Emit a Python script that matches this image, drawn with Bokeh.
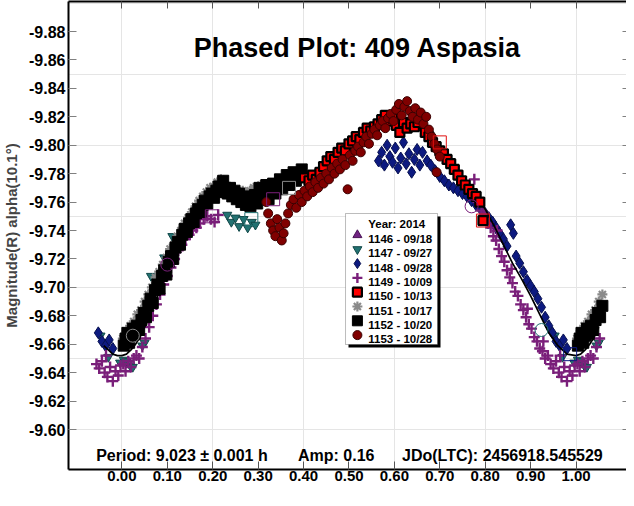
from bokeh.plotting import figure
from bokeh.models import (Range1d, LinearAxis, FixedTicker, NumeralTickFormatter,
                          CustomJSTickFormatter, Label, BoxAnnotation)
from bokeh.embed import file_html
from bokeh.resources import INLINE

FONT = "Liberation Sans"

# ---------------- data ----------------
x_ticks = [0.0, 0.1, 0.2, 0.3, 0.4, 0.5, 0.6, 0.7, 0.8, 0.9, 1.0]
y_ticks = [-9.88, -9.86, -9.84, -9.82, -9.80, -9.78, -9.76, -9.74, -9.72,
           -9.70, -9.68, -9.66, -9.64, -9.62, -9.60]

title_text = "Phased Plot: 409 Aspasia"
y_label = "Magnitude(R) alpha(10.1°)"
period_text = "Period: 9.023 ± 0.001 h"
amp_text = "Amp: 0.16"
jd_text = "JDo(LTC): 2456918.545529"
legend_title = "Year: 2014"
session_labels = ["1146 - 09/18", "1147 - 09/27", "1148 - 09/28", "1149 - 10/09",
                  "1150 - 10/13", "1151 - 10/17", "1152 - 10/20", "1153 - 10/28"]

# 1146 (purple triangles)
s1146_phase = [0.121, 0.152, 0.188, 0.216, 0.262, 0.305]
s1146_mag = [-9.726, -9.746, -9.761, -9.768, -9.763, -9.764]

# 1147 (teal inverted triangles)
s1147_phase = [0.953, 0.962, 0.970, 0.996, 0.004, 0.010, 0.018, 0.024, 0.039, 0.050,
               0.064, 0.093, 0.111, 0.166, 0.173, 0.232, 0.241, 0.250, 0.258, 0.268,
               0.277, 0.286, 0.294, 0.045]
s1147_mag = [-9.666, -9.661, -9.651, -9.647, -9.649, -9.648, -9.645, -9.644, -9.679, -9.661,
             -9.708, -9.721, -9.736, -9.752, -9.755, -9.751, -9.746, -9.749, -9.743, -9.748,
             -9.742, -9.746, -9.744, -9.659]

# 1148 (navy diamonds)
s1148_phase = [0.565, 0.572, 0.578, 0.584, 0.590, 0.596, 0.602, 0.608, 0.614, 0.620,
               0.626, 0.632, 0.638, 0.644, 0.650, 0.656, 0.662,
               0.672, 0.680, 0.690, 0.700, 0.710, 0.720, 0.730, 0.740, 0.750, 0.760,
               0.770, 0.780, 0.790, 0.800, 0.808, 0.816, 0.824, 0.832, 0.840, 0.848,
               0.856, 0.862, 0.868, 0.876, 0.884, 0.892, 0.900, 0.908, 0.916, 0.924,
               0.932, 0.940, 0.948, 0.956, 0.964, 0.972, 0.980]
s1148_mag = [-9.789, -9.795, -9.786, -9.800, -9.792, -9.788, -9.798, -9.784, -9.791, -9.802,
             -9.787, -9.794, -9.781, -9.790, -9.797, -9.786, -9.795,
             -9.789, -9.786, -9.782, -9.778, -9.775, -9.772, -9.770, -9.768, -9.766, -9.764,
             -9.761, -9.758, -9.755, -9.752, -9.749, -9.746, -9.742, -9.738, -9.734, -9.729,
             -9.744, -9.738, -9.722, -9.717, -9.711, -9.705, -9.701, -9.697, -9.692, -9.686,
             -9.679, -9.673, -9.668, -9.662, -9.659, -9.663, -9.657]

# 1149 (purple crosses)
s1149_phase = [0.003, 0.008, 0.014, 0.020, 0.026, 0.032, 0.038, 0.045, 0.052, 0.060,
               0.068, 0.076, 0.084, 0.092, 0.100, 0.108, 0.116, 0.124, 0.132, 0.140,
               0.148, 0.156, 0.164, 0.172, 0.180, 0.188, 0.196, 0.204, 0.212,
               0.776,
               0.784, 0.792, 0.798, 0.806, 0.812, 0.818, 0.824, 0.830, 0.836, 0.842,
               0.848, 0.854, 0.860, 0.866, 0.872, 0.878, 0.884, 0.890, 0.896, 0.902,
               0.908, 0.914, 0.920, 0.926, 0.932, 0.938, 0.944, 0.950, 0.956, 0.962,
               0.968, 0.974, 0.980, 0.986, 0.992, 0.997,
               0.826, 0.858, 0.893, 0.928, 0.965]
s1149_mag = [-9.646, -9.641, -9.648, -9.644, -9.650, -9.652, -9.650, -9.658, -9.664, -9.672,
             -9.680, -9.688, -9.695, -9.702, -9.708, -9.714, -9.720, -9.726, -9.730, -9.734,
             -9.737, -9.740, -9.742, -9.745, -9.748, -9.750, -9.748, -9.746, -9.751,
             -9.776,
             -9.760, -9.754, -9.752, -9.745, -9.742, -9.736, -9.733, -9.727, -9.722, -9.718,
             -9.712, -9.707, -9.703, -9.697, -9.694, -9.688, -9.684, -9.679, -9.674, -9.671,
             -9.665, -9.662, -9.657, -9.655, -9.650, -9.652, -9.646, -9.643, -9.648, -9.640,
             -9.637, -9.644, -9.634, -9.641, -9.638, -9.645,
             -9.740, -9.713, -9.685, -9.662, -9.652]

# 1150 (red squares)
s1150_phase = [0.402, 0.412, 0.420, 0.428, 0.436, 0.444, 0.452, 0.460, 0.468, 0.476,
               0.484, 0.492, 0.500, 0.508, 0.516, 0.524, 0.532, 0.540, 0.548, 0.556,
               0.564, 0.572, 0.580, 0.588, 0.596, 0.604, 0.612, 0.620, 0.628, 0.636,
               0.644, 0.652, 0.660, 0.668, 0.676, 0.684, 0.692, 0.700, 0.708, 0.716,
               0.724, 0.732, 0.740, 0.748, 0.756, 0.764, 0.772, 0.780, 0.788, 0.795]
s1150_mag = [-9.777, -9.775, -9.779, -9.776, -9.781, -9.785, -9.789, -9.792, -9.790, -9.795,
             -9.798, -9.796, -9.801, -9.803, -9.806, -9.804, -9.809, -9.812, -9.810, -9.813,
             -9.815, -9.818, -9.821, -9.817, -9.819, -9.814, -9.809, -9.816, -9.812, -9.815,
             -9.813, -9.816, -9.819, -9.809, -9.806, -9.802, -9.799, -9.796, -9.794, -9.790,
             -9.787, -9.783, -9.779, -9.775, -9.772, -9.769, -9.766, -9.764, -9.760, -9.747]

# 1151 (gray asterisks)
s1151_phase = [0.002, 0.010, 0.018, 0.026, 0.034, 0.042, 0.050, 0.058, 0.066, 0.074,
               0.082, 0.090, 0.098, 0.106, 0.114, 0.122, 0.130, 0.138, 0.146, 0.154,
               0.162, 0.170, 0.178, 0.186, 0.194, 0.202, 0.210, 0.218, 0.226, 0.234,
               0.242, 0.250, 0.258, 0.266, 0.274, 0.282, 0.290, 0.298, 0.306, 0.314]
s1151_mag = [-9.664, -9.669, -9.673, -9.676, -9.681, -9.684, -9.690, -9.695, -9.700, -9.707,
             -9.711, -9.716, -9.721, -9.727, -9.730, -9.736, -9.740, -9.745, -9.749, -9.753,
             -9.757, -9.761, -9.764, -9.767, -9.770, -9.771, -9.774, -9.776, -9.773, -9.771,
             -9.769, -9.768, -9.767, -9.768, -9.766, -9.768, -9.770, -9.769, -9.772, -9.771]

# 1152 (black squares)
s1152_phase = [0.004, 0.008, 0.012, 0.016, 0.020, 0.024, 0.028, 0.033, 0.038, 0.043,
               0.048, 0.053, 0.058, 0.063, 0.068, 0.073, 0.078, 0.083, 0.088, 0.093,
               0.098, 0.103, 0.108, 0.113, 0.118, 0.123, 0.128, 0.133, 0.138, 0.143,
               0.148, 0.153, 0.158, 0.163, 0.168, 0.173, 0.178, 0.183, 0.188, 0.193,
               0.198, 0.203, 0.208, 0.213, 0.218, 0.223, 0.228, 0.233, 0.238, 0.243,
               0.248, 0.253, 0.258, 0.263, 0.268, 0.273, 0.278, 0.283, 0.288, 0.293,
               0.298, 0.303, 0.308, 0.313, 0.318, 0.323, 0.328, 0.333, 0.338, 0.343,
               0.348, 0.353, 0.358, 0.363, 0.368, 0.373, 0.378, 0.383, 0.390, 0.396]
s1152_mag = [-9.659, -9.664, -9.668, -9.661, -9.666, -9.671, -9.667, -9.673, -9.670, -9.677,
             -9.682, -9.679, -9.687, -9.692, -9.689, -9.698, -9.702, -9.699, -9.708, -9.712,
             -9.709, -9.718, -9.722, -9.720, -9.728, -9.732, -9.730, -9.737, -9.741, -9.739,
             -9.745, -9.748, -9.746, -9.752, -9.755, -9.753, -9.758, -9.761, -9.759, -9.764,
             -9.766, -9.763, -9.768, -9.771, -9.767, -9.775, -9.770, -9.766, -9.770, -9.764,
             -9.768, -9.762, -9.766, -9.760, -9.764, -9.758, -9.762, -9.757, -9.761, -9.765,
             -9.759, -9.770, -9.763, -9.767, -9.772, -9.762, -9.768, -9.773, -9.766, -9.771,
             -9.776, -9.769, -9.774, -9.779, -9.772, -9.777, -9.781, -9.775, -9.779, -9.783]

# 1153 (dark red circles)
s1153_phase = [0.318, 0.322, 0.328, 0.333, 0.338, 0.342, 0.347, 0.352, 0.356, 0.360,
               0.366, 0.372, 0.378, 0.384, 0.390, 0.396, 0.402, 0.408, 0.414, 0.420,
               0.426, 0.432, 0.438, 0.444, 0.450, 0.456, 0.462, 0.468, 0.474, 0.480,
               0.486, 0.492, 0.497, 0.502, 0.508, 0.514, 0.520, 0.526, 0.532, 0.538,
               0.544, 0.550, 0.556, 0.562, 0.568, 0.574, 0.580, 0.586, 0.592, 0.598,
               0.604, 0.610, 0.616, 0.622, 0.628, 0.634, 0.640, 0.646, 0.652, 0.658,
               0.664, 0.670, 0.676, 0.682, 0.688, 0.694, 0.693, 0.700]
s1153_mag = [-9.760, -9.752, -9.745, -9.740, -9.736, -9.748, -9.742, -9.733, -9.738, -9.745,
             -9.752, -9.758, -9.762, -9.756, -9.765, -9.760, -9.768, -9.764, -9.771, -9.767,
             -9.774, -9.770, -9.777, -9.773, -9.780, -9.776, -9.784, -9.780, -9.787, -9.783,
             -9.790, -9.786, -9.769, -9.793, -9.789, -9.796, -9.799, -9.795, -9.802, -9.806,
             -9.801, -9.808, -9.811, -9.807, -9.814, -9.817, -9.812, -9.819, -9.822, -9.817,
             -9.825, -9.829, -9.821, -9.827, -9.831, -9.824, -9.820, -9.826, -9.818, -9.823,
             -9.815, -9.820, -9.811, -9.806, -9.801, -9.797, -9.781, -9.792]

# open (rejected) points, by session
open_circle_session = [1148, 1149, 1151, 1147, 1149]
open_circle_phase = [0.575, 0.100, 0.024, 0.924, 0.770]
open_circle_mag = [-9.789, -9.716, -9.666, -9.670, -9.757]
open_square_session = [1149, 1149, 1147, 1150, 1150, 1148, 1151]
open_square_phase = [0.198, 0.333, 0.285, 0.795, 0.700, 0.987, 0.368]
open_square_mag = [-9.750, -9.762, -9.748, -9.747, -9.802, -9.653, -9.770]

# Fourier fit curve
fit_phase = [-0.04, -0.03, -0.02, -0.01, 0.00, 0.01, 0.02, 0.03, 0.04, 0.05, 0.06, 0.08,
             0.10, 0.12, 0.14, 0.16, 0.18, 0.20, 0.22, 0.24, 0.26, 0.28, 0.30, 0.32, 0.34,
             0.36, 0.38, 0.40, 0.42, 0.44, 0.46, 0.48, 0.50, 0.52, 0.54, 0.56, 0.58, 0.60,
             0.62, 0.64, 0.66, 0.68, 0.70, 0.72, 0.74, 0.76, 0.78, 0.80, 0.82, 0.84, 0.86,
             0.88, 0.90, 0.92, 0.94, 0.96, 0.98, 1.00, 1.01, 1.02, 1.03, 1.04, 1.05]
fit_mag = [-9.659, -9.656, -9.653, -9.652, -9.652, -9.653, -9.656, -9.660, -9.665, -9.672,
           -9.679, -9.695, -9.711, -9.726, -9.739, -9.750, -9.758, -9.763, -9.765, -9.764,
           -9.762, -9.760, -9.760, -9.762, -9.765, -9.769, -9.773, -9.777, -9.781, -9.786,
           -9.791, -9.796, -9.800, -9.804, -9.808, -9.812, -9.815, -9.817, -9.818, -9.816,
           -9.811, -9.804, -9.797, -9.790, -9.782, -9.774, -9.765, -9.755, -9.743, -9.730,
           -9.717, -9.706, -9.694, -9.681, -9.668, -9.659, -9.653, -9.652, -9.653, -9.656,
           -9.660, -9.665, -9.672]


def wrap(ph, mg):
    """Phase plot shows -0.06..1.06: repeat points near the ends one cycle over."""
    px, my = list(ph), list(mg)
    for a, b in zip(ph, mg):
        if a < 0.06:
            px.append(a + 1.0)
            my.append(b)
        elif a > 0.94:
            px.append(a - 1.0)
            my.append(b)
    return px, my


# ---------------- figure ----------------
X0, X1 = -0.1176, 1.1111            # frame spans page x 70 .. 634
Y_BOT, Y_TOP = -9.57186, -9.90111   # frame spans page y 477 .. 9 (inverted magnitudes)
FR_L, FR_R, FR_T, FR_B = 70.0, 634.0, 9.0, 477.0


def px_x(px):   # page pixel -> phase (for annotation placement)
    return X0 + (px - FR_L) * (X1 - X0) / (FR_R - FR_L)


def px_y(py):   # page pixel -> magnitude (for annotation placement)
    return Y_TOP + (py - FR_T) * (Y_BOT - Y_TOP) / (FR_B - FR_T)


p = figure(width=626, height=490, output_backend="svg", toolbar_location=None,
           x_range=Range1d(X0, X1), y_range=Range1d(Y_BOT, Y_TOP),
           x_axis_location=None, y_axis_location=None,
           min_border_left=62, min_border_right=0, min_border_top=1, min_border_bottom=21)
p.outline_line_color = None
p.background_fill_color = "white"
p.border_fill_color = "white"

xt = FixedTicker(ticks=x_ticks)
yt = FixedTicker(ticks=y_ticks)
blank = CustomJSTickFormatter(code="return '';")

bottom = LinearAxis(ticker=xt, formatter=NumeralTickFormatter(format="0.00"))
bottom.axis_line_width = 2
bottom.axis_line_color = "black"
bottom.major_tick_in = 8
bottom.major_tick_out = 0
bottom.major_tick_line_color = "#555555"
bottom.minor_tick_line_color = None
bottom.major_label_standoff = 1
bottom.major_label_text_font = FONT
bottom.major_label_text_font_style = "bold"
bottom.major_label_text_font_size = "15px"
bottom.major_label_text_color = "black"
p.add_layout(bottom, "below")

top = LinearAxis(ticker=xt, formatter=blank)
top.axis_line_width = 2
top.axis_line_color = "black"
top.major_tick_in = 7
top.major_tick_out = 0
top.major_tick_line_color = "#555555"
top.minor_tick_line_color = None
top.major_label_standoff = 0
top.major_label_text_font_size = "1px"
p.add_layout(top, "above")

left = LinearAxis(ticker=yt, formatter=NumeralTickFormatter(format="0.00"), axis_label=y_label)
left.axis_line_width = 2
left.axis_line_color = "black"
left.major_tick_in = 8
left.major_tick_out = 0
left.major_tick_line_color = "#808080"
left.minor_tick_line_color = None
left.major_label_standoff = 3
left.major_label_text_font = FONT
left.major_label_text_font_style = "bold"
left.major_label_text_font_size = "16px"
left.major_label_text_color = "black"
left.axis_label_text_font = FONT
left.axis_label_text_font_style = "bold"
left.axis_label_text_font_size = "15px"
left.axis_label_standoff = 6
p.add_layout(left, "left")

right = LinearAxis(ticker=yt, formatter=blank)
right.axis_line_color = None
right.major_tick_in = 4
right.major_tick_out = 0
right.major_tick_line_color = "#808080"
right.minor_tick_line_color = None
right.major_label_standoff = 0
right.major_label_text_font_size = "1px"
p.add_layout(right, "right")

# marker styles per session (legend uses the same)
styles = [
    dict(marker="triangle", size=9, fill_color="#702382", line_color="#4a1456", line_width=1),
    dict(marker="inverted_triangle", size=9, fill_color="#227272", line_color="#114848", line_width=1),
    dict(marker="diamond", size=12, fill_color="#0d1a80", line_color="#07104f", line_width=1),
    dict(marker="cross", size=11, line_color="#7a1f7a", line_width=2.4),
    dict(marker="square", size=9, fill_color="#ff0000", line_color="black", line_width=2.2),
    dict(marker="asterisk", size=10, line_color="#8a8a8a", line_width=2.2),
    dict(marker="square", size=11, fill_color="black", line_color="black", line_width=1),
    dict(marker="circle", size=9, fill_color="#800000", line_color="#3a0000", line_width=1),
]
series = [(s1146_phase, s1146_mag), (s1147_phase, s1147_mag), (s1148_phase, s1148_mag),
          (s1149_phase, s1149_mag), (s1150_phase, s1150_mag), (s1151_phase, s1151_mag),
          (s1152_phase, s1152_mag), (s1153_phase, s1153_mag)]

# drawing order: sparse sessions first, fit curve, then the dense ones on top
for i in [0, 1, 2, 3, 5]:
    x, y = wrap(*series[i])
    p.scatter(x, y, **styles[i])

p.line(fit_phase, fit_mag, line_color="black", line_width=1.7)

for i in [6, 4, 7]:
    x, y = wrap(*series[i])
    p.scatter(x, y, **styles[i])

session_color = {1147: "#227272", 1148: "#0d1a80", 1149: "#7a1f7a", 1150: "#e01010", 1151: "#8a8a8a"}
p.scatter(open_circle_phase, open_circle_mag, marker="circle", size=13, fill_color=None,
          line_color=[session_color[s] for s in open_circle_session], line_width=1)
p.scatter(open_square_phase, open_square_mag, marker="square", size=13, fill_color=None,
          line_color=[session_color[s] for s in open_square_session], line_width=1)

# ---------------- legend box (page-pixel layout) ----------------
LG_L, LG_R, LG_T, LG_B = 350, 443, 221, 352
p.add_layout(BoxAnnotation(left=px_x(LG_L + 3), right=px_x(LG_R + 3),
                           top=px_y(LG_T + 3), bottom=px_y(LG_B + 3),
                           fill_color="black", fill_alpha=1, line_color=None))
p.add_layout(BoxAnnotation(left=px_x(LG_L), right=px_x(LG_R), top=px_y(LG_T), bottom=px_y(LG_B),
                           fill_color="white", fill_alpha=1, line_color="#222222", line_width=1))
p.add_layout(Label(x=px_x(373), y=px_y(231), text=legend_title, text_align="left",
                   text_baseline="alphabetic", text_font=FONT, text_font_style="bold",
                   text_font_size="11.5px", text_color="black", level="overlay"))
for i, lab in enumerate(session_labels):
    st = dict(styles[i])
    st["size"] = min(st["size"], 10)
    p.scatter([px_x(362)], [px_y(242.5 + 14.3 * i)], level="overlay", **st)
    p.add_layout(Label(x=px_x(373), y=px_y(246.5 + 14.3 * i), text=lab, text_align="left",
                       text_baseline="alphabetic", text_font=FONT, text_font_style="bold",
                       text_font_size="11.5px", text_color="black", level="overlay"))

# ---------------- texts ----------------
p.add_layout(Label(x=px_x(362), y=px_y(55), text=title_text, text_align="center",
                   text_baseline="alphabetic", text_font=FONT, text_font_style="bold",
                   text_font_size="27px", text_color="black"))
p.add_layout(Label(x=px_x(98), y=px_y(463), text=period_text, text_align="left",
                   text_baseline="alphabetic", text_font=FONT, text_font_style="bold",
                   text_font_size="16px", text_color="black"))
p.add_layout(Label(x=px_x(302), y=px_y(463), text=amp_text, text_align="left",
                   text_baseline="alphabetic", text_font=FONT, text_font_style="bold",
                   text_font_size="16px", text_color="black"))
p.add_layout(Label(x=px_x(610), y=px_y(463), text=jd_text, text_align="right",
                   text_baseline="alphabetic", text_font=FONT, text_font_style="bold",
                   text_font_size="16px", text_color="black"))

open("out.html", "w").write(file_html(p, INLINE))
